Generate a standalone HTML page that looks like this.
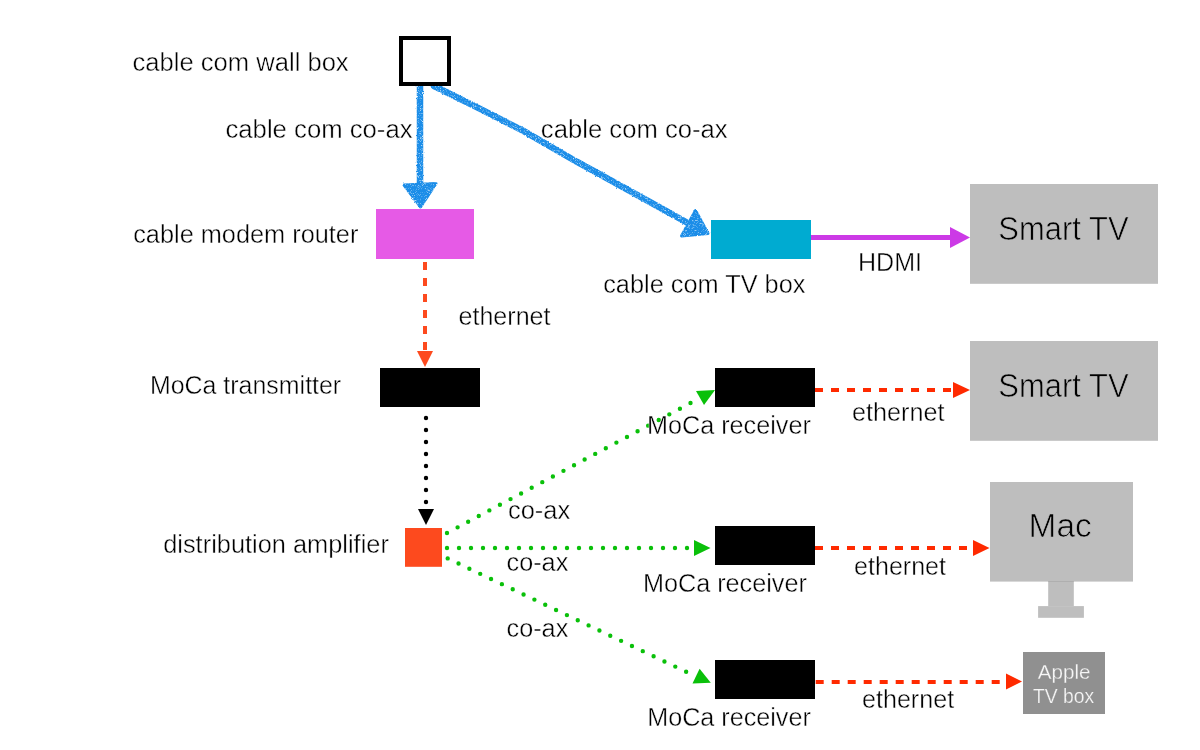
<!DOCTYPE html>
<html><head><meta charset="utf-8"><style>
html,body{margin:0;padding:0;background:#fff;width:1200px;height:750px;overflow:hidden}
svg{display:block;will-change:transform}
text{font-family:"Liberation Sans",sans-serif}
</style></head><body>
<svg width="1200" height="750" viewBox="0 0 1200 750">
<defs>
<filter id="rough" x="-10%" y="-10%" width="120%" height="120%" color-interpolation-filters="sRGB">
<feTurbulence type="fractalNoise" baseFrequency="0.8" numOctaves="2" seed="7" result="n"/>
<feDisplacementMap in="SourceGraphic" in2="n" scale="2.2" xChannelSelector="R" yChannelSelector="G" result="d"/>
<feTurbulence type="fractalNoise" baseFrequency="1.6" numOctaves="1" seed="11" result="n2"/>
<feColorMatrix in="n2" type="matrix" values="0 0 0 0 0  0 0 0 0 0  0 0 0 0 0  0 0 0 -2.5 2.3" result="m"/>
<feComposite in="d" in2="m" operator="in"/>
</filter>
</defs>
<rect width="1200" height="750" fill="#fff"/>

<!-- boxes -->
<rect x="376" y="209" width="98" height="50" fill="#e65ae6"/>
<rect x="711" y="220" width="100" height="39" fill="#00abd1"/>
<rect x="970" y="184" width="188" height="99.8" fill="#bebebe"/>
<rect x="970" y="341" width="188" height="99.8" fill="#bebebe"/>
<rect x="380" y="368" width="100" height="39" fill="#000"/>
<rect x="405" y="528" width="37" height="38.8" fill="#fd4a1e"/>
<rect x="715" y="368" width="100" height="39" fill="#000"/>
<rect x="715" y="526" width="100" height="39" fill="#000"/>
<rect x="715" y="660" width="100" height="39" fill="#000"/>
<rect x="990" y="482" width="143" height="99.6" fill="#bebebe"/>
<rect x="1048.2" y="581" width="25.6" height="25.2" fill="#bebebe"/>
<rect x="1048.2" y="581.2" width="25.6" height="0.8" fill="#acacac"/>
<rect x="1038.1" y="606.1" width="45.8" height="11.7" fill="#bebebe"/>
<rect x="1023" y="652" width="82" height="62" fill="#909090"/>

<!-- blue crayon arrows -->
<g filter="url(#rough)">
<line x1="420" y1="86" x2="420" y2="190" stroke="#1b8de8" stroke-width="6.5"/>
<polygon points="404,185 436,183.5 420.6,207" fill="#1b8de8" stroke="#1b8de8" stroke-width="3" stroke-linejoin="round"/>
<polyline stroke-linecap="round" points="434,86 476.7,107.1 523.4,130.9 576.7,161.7 628,189.8 662.3,208.9 686,222" fill="none" stroke="#1b8de8" stroke-width="6.5" stroke-linejoin="round"/>
<polygon points="695.5,210.5 681.5,236 708,233.5" fill="#1b8de8" stroke="#1b8de8" stroke-width="3" stroke-linejoin="round"/>
</g>
<rect x="401" y="38" width="48" height="46" fill="#fff" stroke="#000" stroke-width="4"/>

<!-- HDMI -->
<line x1="811" y1="237.5" x2="952" y2="237.5" stroke="#cc3ae6" stroke-width="5"/>
<polygon points="950,227 970,237.5 950,248" fill="#cc3ae6"/>

<!-- orange dashed vertical -->
<line x1="425" y1="262" x2="425" y2="351" stroke="#fd4a1e" stroke-width="4" stroke-dasharray="8 8"/>
<polygon points="417,351 433,351 425,367" fill="#fd4a1e"/>

<!-- black dotted -->
<line x1="426" y1="418" x2="426" y2="503" stroke="#000" stroke-width="4.4" stroke-linecap="round" stroke-dasharray="0 12"/>
<polygon points="418,509 434,509 426,525" fill="#000"/>

<!-- green dotted -->
<line x1="447" y1="533" x2="700" y2="398" stroke="#0ac00a" stroke-width="4.4" stroke-linecap="round" stroke-dasharray="0 12"/>
<polygon points="696,391 715,390 704,405" fill="#0ac00a"/>
<line x1="447" y1="548" x2="692" y2="548" stroke="#0ac00a" stroke-width="4.4" stroke-linecap="round" stroke-dasharray="0 12"/>
<polygon points="694,540 710.5,548 694,556" fill="#0ac00a"/>
<line x1="447.7" y1="558.4" x2="694" y2="675.5" stroke="#0ac00a" stroke-width="4.4" stroke-linecap="round" stroke-dasharray="0 12"/>
<polygon points="692.5,683.5 699.6,668.8 710.8,682.8" fill="#0ac00a"/>

<!-- red dashed horizontals -->
<line x1="815" y1="390" x2="953" y2="390" stroke="#ff2a00" stroke-width="4" stroke-dasharray="8 8"/>
<polygon points="953,382 970,390 953,398" fill="#ff2a00"/>
<line x1="815" y1="548" x2="973" y2="548" stroke="#ff2a00" stroke-width="4" stroke-dasharray="8 8"/>
<polygon points="973,540 989.5,548 973,556" fill="#ff2a00"/>
<line x1="815.7" y1="682" x2="1006" y2="682" stroke="#ff2a00" stroke-width="4" stroke-dasharray="8 8"/>
<polygon points="1006,673.5 1022,681.5 1006,689.5" fill="#ff2a00"/>

<text transform="translate(132.58 71.00) scale(1.0238 1)" font-size="25" fill="#000" stroke="#fff" stroke-width="0.4">cable com wall box</text>
<text transform="translate(225.47 137.70) scale(1.0285 1)" font-size="25" fill="#000" stroke="#fff" stroke-width="0.4">cable com co-ax</text>
<text transform="translate(540.87 137.70) scale(1.0263 1)" font-size="25" fill="#000" stroke="#fff" stroke-width="0.4">cable com co-ax</text>
<text transform="translate(133.19 242.90) scale(1.0132 1)" font-size="25" fill="#000" stroke="#fff" stroke-width="0.4">cable modem router</text>
<text transform="translate(603.19 292.50) scale(1.0137 1)" font-size="25" fill="#000" stroke="#fff" stroke-width="0.4">cable com TV box</text>
<text transform="translate(857.99 271.00) scale(1.0034 1)" font-size="25" fill="#000" stroke="#fff" stroke-width="0.4">HDMI</text>
<text transform="translate(458.50 325.10) scale(1.0033 1)" font-size="25" fill="#000" stroke="#fff" stroke-width="0.4">ethernet</text>
<text transform="translate(149.90 394.30) scale(0.9979 1)" font-size="25" fill="#000" stroke="#fff" stroke-width="0.4">MoCa transmitter</text>
<text transform="translate(163.18 553.10) scale(1.0155 1)" font-size="25" fill="#000" stroke="#fff" stroke-width="0.4">distribution amplifier</text>
<text transform="translate(507.98 519.40) scale(1.0188 1)" font-size="25" fill="#000" stroke="#fff" stroke-width="0.4">co-ax</text>
<text transform="translate(506.59 571.00) scale(1.0088 1)" font-size="25" fill="#000" stroke="#fff" stroke-width="0.4">co-ax</text>
<text transform="translate(506.59 637.40) scale(1.0088 1)" font-size="25" fill="#000" stroke="#fff" stroke-width="0.4">co-ax</text>
<text transform="translate(646.98 434.00) scale(1.0086 1)" font-size="25" fill="#000" stroke="#fff" stroke-width="0.4">MoCa receiver</text>
<text transform="translate(642.88 591.90) scale(1.0092 1)" font-size="25" fill="#000" stroke="#fff" stroke-width="0.4">MoCa receiver</text>
<text transform="translate(647.19 725.70) scale(1.0073 1)" font-size="25" fill="#000" stroke="#fff" stroke-width="0.4">MoCa receiver</text>
<text transform="translate(851.99 421.00) scale(1.0088 1)" font-size="25" fill="#000" stroke="#fff" stroke-width="0.4">ethernet</text>
<text transform="translate(854.10 574.60) scale(1.0022 1)" font-size="25" fill="#000" stroke="#fff" stroke-width="0.4">ethernet</text>
<text transform="translate(861.99 707.70) scale(1.0055 1)" font-size="25" fill="#000" stroke="#fff" stroke-width="0.4">ethernet</text>
<text transform="translate(998.36 240.00) scale(0.9114 1)" font-size="34" fill="#000" stroke="#bebebe" stroke-width="0.7">Smart TV</text>
<text transform="translate(998.36 397.10) scale(0.9114 1)" font-size="34" fill="#000" stroke="#bebebe" stroke-width="0.7">Smart TV</text>
<text transform="translate(1028.52 537.20) scale(0.9837 1)" font-size="34" fill="#000" stroke="#bebebe" stroke-width="0.7">Mac</text>
<text transform="translate(1037.70 679.00) scale(0.9827 1)" font-size="21" fill="#f6f6f6" stroke="#909090" stroke-width="0.25">Apple</text>
<text transform="translate(1032.91 702.60) scale(0.9205 1)" font-size="21" fill="#f6f6f6" stroke="#909090" stroke-width="0.25">TV box</text>
</svg>
</body></html>
